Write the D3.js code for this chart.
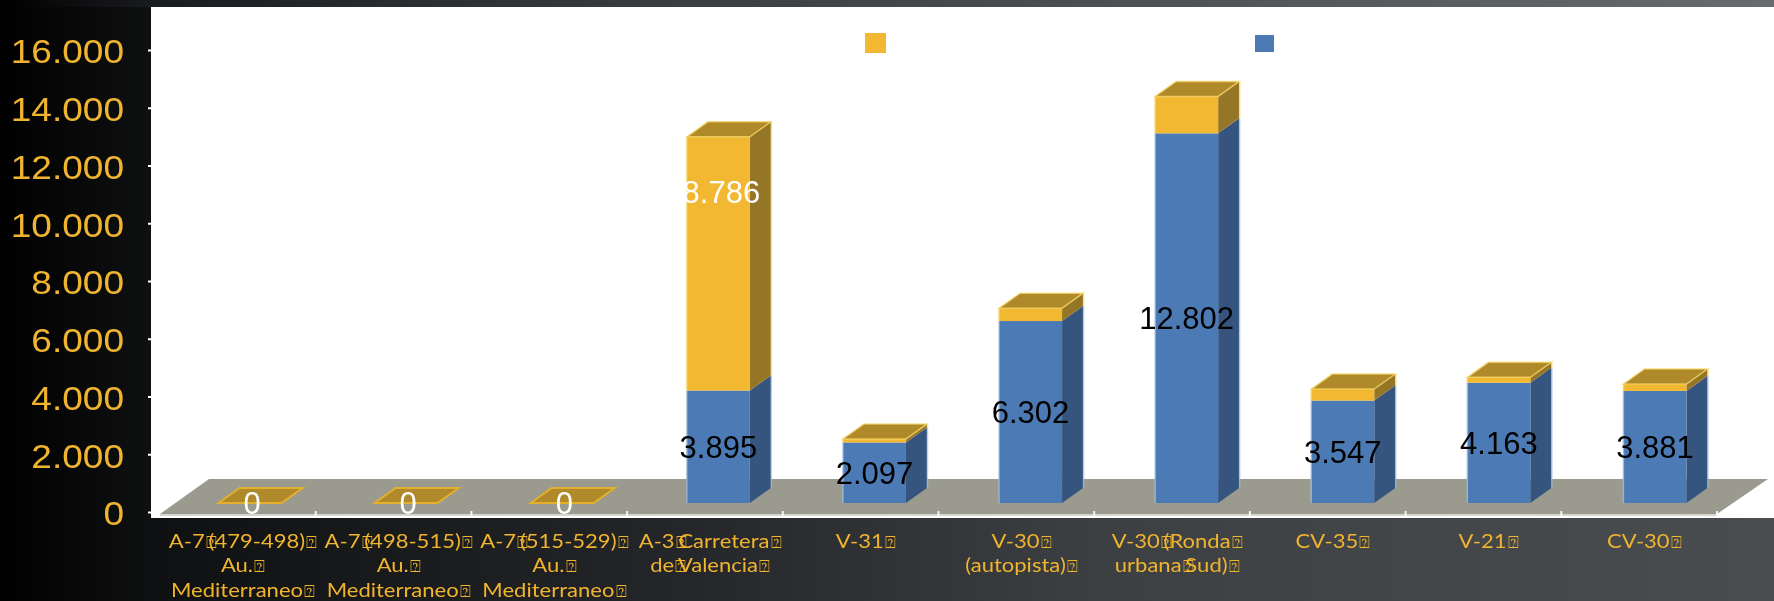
<!DOCTYPE html>
<html><head><meta charset="utf-8">
<script src="https://cdn.jsdelivr.net/npm/d3@7"></script>
<style>html,body{margin:0;padding:0;background:#000}svg{display:block}</style>
</head><body><div id="chart"></div>
<script>
const categories = ["A-7 (479-498) Au. Mediterraneo","A-7 (498-515) Au. Mediterraneo","A-7 (515-529) Au. Mediterraneo","A-3 Carretera de Valencia","V-31","V-30 (autopista)","V-30 (Ronda urbana Sud)","CV-35","V-21","CV-30"];
const categoryLines = [
 ["A-7|(479-498)|","Au.|","Mediterraneo|"],
 ["A-7|(498-515)|","Au.|","Mediterraneo|"],
 ["A-7|(515-529)|","Au.|","Mediterraneo|"],
 ["A-3|Carretera|","de|Valencia|"],
 ["V-31|"],
 ["V-30|","(autopista)|"],
 ["V-30|(Ronda|","urbana|Sud)|"],
 ["CV-35|"],
 ["V-21|"],
 ["CV-30|"]
];
const blueValues = [0,0,0,3895,2097,6302,12802,3547,4163,3881];
const goldValues = [0,0,0,8786,120,445,1280,400,190,240];
const yTicks = [0,2000,4000,6000,8000,10000,12000,14000,16000];
const goldLabelValue = 10760; // value height where the one visible gold label sits

const W=1774,H=601;
const svg=d3.select("#chart").append("svg").attr("width",W).attr("height",H);
const defs=svg.append("defs");
defs.append("filter").attr("id","soft").attr("x",0).attr("y",0).attr("width",1).attr("height",1)
  .append("feGaussianBlur").attr("stdDeviation",0.45);
function grad(id,stops){
  const g=defs.append("linearGradient").attr("id",id).attr("gradientUnits","userSpaceOnUse")
    .attr("x1",0).attr("x2",W).attr("y1",0).attr("y2",0);
  stops.forEach(s=>g.append("stop").attr("offset",s[0]/W).attr("stop-color",s[1]));
}
grad("bgBottom",[[0,"#000"],[150,"#0f1011"],[700,"#25272a"],[1100,"#3d4043"],[1774,"#4a4d50"]]);
grad("bgTop",[[0,"#000"],[150,"#1a1b1e"],[660,"#3a3d40"],[1300,"#55575b"],[1774,"#676a6e"]]);
svg.append("rect").attr("width",W).attr("height",H).attr("fill","url(#bgBottom)");
svg.append("rect").attr("width",W).attr("height",7).attr("fill","url(#bgTop)");
svg.append("rect").attr("x",151).attr("y",7).attr("width",W-151).attr("height",511).attr("fill","#fff");

const root=svg.append("g").attr("filter","url(#soft)");

const y=d3.scaleLinear().domain([0,16000]).range([512,50]);
const x=d3.scaleBand().domain(categories).range([160,1721]);
const xTick=d3.scaleBand().domain(categories).range([160,1717]);
const barW=63, depthX=21, depthY=15, baseShift=9, barShift=12;

// floor
const floorFront=514, floorBack=479;
root.append("polygon").attr("fill","#9a9b8e")
  .attr("points",[[160,floorFront],[209,floorBack],[1768,floorBack],[1717,floorFront]].join(" "));
root.append("rect").attr("x",160).attr("y",floorFront).attr("width",1557).attr("height",2).attr("fill","#d6d6d0");

// category boundary ticks
root.append("g").selectAll("rect").data(categories).join("rect")
  .attr("x",d=>xTick(d)+xTick.step()-1).attr("y",511).attr("width",2).attr("height",5).attr("fill","#f4f4f0");

// y axis
const yAxis=d3.axisLeft(y).tickValues(yTicks).tickSize(3).tickPadding(24)
  .tickFormat(d=>d3.format(",")(d).replace(/,/g,"."));
const ga=root.append("g").attr("transform","translate(151,0)").call(yAxis);
ga.select(".domain").remove();
ga.selectAll(".tick line").attr("stroke","#fff").attr("stroke-width",2);
const axisStretch=1.09;
ga.selectAll(".tick text").attr("fill","#f0b42f").attr("font-family","'Liberation Sans'").attr("font-size",34)
  .attr("dy","0.38em").attr("text-anchor","end")
  .attr("x",-27/axisStretch).attr("transform",`scale(${axisStretch},1)`);

const by=v=>y(v)-baseShift;
const gold={front:"#f3b830",side:"#957526",top:"#b08a2a",edge:"#f5d565"};
const blue={front:"#4c7ab5",side:"#35557f",top:"#35557f",edge:"#a3bbd9"};

function box(g,bx,v0,v1,c,topFace){
  const x0=bx,x1=bx+barW,yb=by(v0),yt=by(v1);
  g.append("polygon").attr("fill",c.side)
    .attr("points",[[x1,yb],[x1+depthX,yb-depthY],[x1+depthX,yt-depthY],[x1,yt]].join(" "));
  g.append("line").attr("x1",x1+depthX+0.5).attr("x2",x1+depthX+0.5).attr("y1",yb-depthY).attr("y2",yt-depthY)
    .attr("stroke",c.edge).attr("stroke-opacity",0.7).attr("stroke-width",1.5);
  g.append("rect").attr("x",x0).attr("y",yt).attr("width",barW).attr("height",Math.max(0,yb-yt)).attr("fill",c.front);
  g.append("line").attr("x1",x0).attr("x2",x0).attr("y1",yb).attr("y2",yt)
    .attr("stroke",c.edge).attr("stroke-opacity",0.8).attr("stroke-width",1.5);
  if(topFace){
    g.append("polygon").attr("fill",c.top).attr("stroke",c.edge).attr("stroke-width",1.5).attr("stroke-opacity",0.75)
      .attr("points",[[x0,yt],[x0+depthX,yt-depthY],[x1+depthX,yt-depthY],[x1,yt]].join(" "));
  }
}

const barsG=root.append("g");
categories.forEach((c,i)=>{
  const bx=x(c)+(x.bandwidth()-barW)/2+barShift;
  const g=barsG.append("g");
  const b=blueValues[i],t=b+goldValues[i];
  if(t===0){
    g.append("polygon").attr("fill",gold.top).attr("stroke","#e3b02f").attr("stroke-width",2)
      .attr("points",[[bx,by(0)],[bx+depthX,by(0)-depthY],[bx+barW+depthX,by(0)-depthY],[bx+barW,by(0)]].join(" "));
    return;
  }
  box(g,bx,0,b,blue,false);
  box(g,bx,b,t,gold,true);
});

// data labels
const labelFont="'Liberation Sans'";
const fmt=d=>d3.format(",")(d).replace(/,/g,".");
const lab=root.append("g").attr("font-family",labelFont).attr("font-size",31).attr("text-anchor","middle");
categories.forEach((c,i)=>{
  const cx=x(c)+x.bandwidth()/2+barShift;
  const b=blueValues[i];
  lab.append("text").attr("x",b===0?cx+2:cx).attr("y",by(b/2)).attr("dy","0.36em")
    .attr("fill",b===0?"#fff":"#000").text(fmt(b));
  if(goldValues[i]>=5000){
    lab.append("text").attr("x",cx+3).attr("y",by(goldLabelValue)).attr("dy","0.36em")
      .attr("fill","#fff").text(fmt(goldValues[i]));
  }
});

// legend swatches
root.append("rect").attr("x",865).attr("y",33).attr("width",21).attr("height",20).attr("fill",gold.front);
root.append("rect").attr("x",1255).attr("y",35).attr("width",19).attr("height",17).attr("fill",blue.front);

// category labels
const labelStretch=1.13;
const cg=root.append("g").attr("font-family","Lato").attr("font-size",19.5).attr("fill","#f0b42f").attr("text-anchor","middle");
categoryLines.forEach((lines,i)=>{
  const cx=xTick(categories[i])+xTick.bandwidth()/2+5;
  lines.forEach((ln,k)=>{
    const t=cg.append("text").attr("transform",`translate(${cx},${548+k*24.4}) scale(${labelStretch},1)`);
    const parts=ln.split("|");
    parts.forEach((p,j)=>{
      if(p) t.append("tspan").attr("dx",j>0?-7:0).text(p);
      if(j<parts.length-1) t.append("tspan").attr("font-family","'DejaVu Sans'").attr("font-size",16).attr("dx",1).text("\u2370");
    });
  });
});
</script></body></html>
